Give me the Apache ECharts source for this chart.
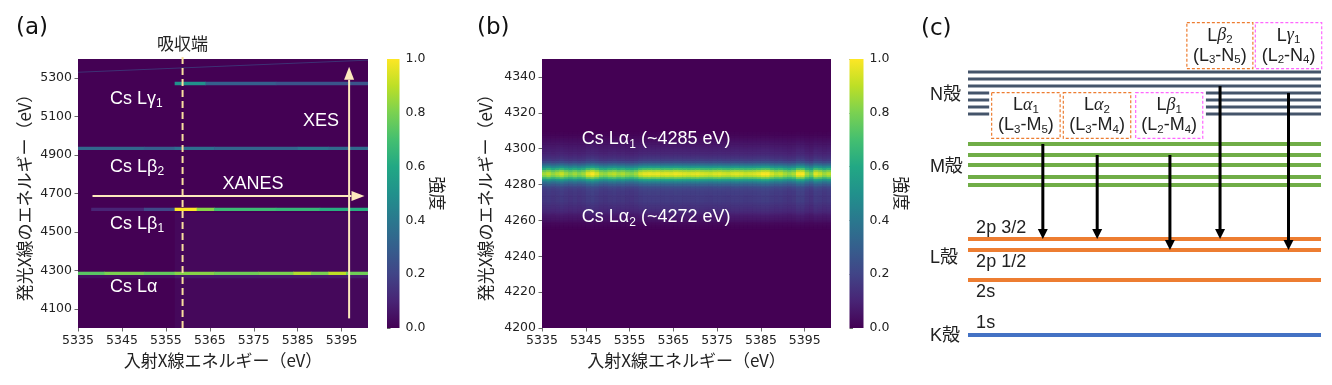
<!DOCTYPE html>
<html><head><meta charset="utf-8">
<script src="https://cdn.jsdelivr.net/npm/echarts@6/dist/echarts.min.js"></script>
<style>html,body{margin:0;padding:0;background:#fff}#c{width:1332px;height:385px}</style>
</head><body><div id="c"></div>
<script>
// ================= DATA =================
const incidentTicks = [5335, 5345, 5355, 5365, 5375, 5385, 5395];
const emissionTicksA = [4100, 4300, 4500, 4700, 4900, 5100, 5300];
const emissionTicksB = [4200, 4220, 4240, 4260, 4280, 4300, 4320, 4340];
const viridis = ['#440154','#482475','#414487','#355f8d','#2a788e','#21918c','#22a884','#44bf70','#7ad151','#bddf26','#fde725'];

// Panel (a): emission line energies (eV), band half width (eV), and intensity segments [incidentStart, incidentEnd, intensity]
const aLineEnergy = { La: 4286, Lb1: 4619, Lb2: 4936, Lg1: 5274 };
const aLineHalfWidth = 7;
const aLaSegs  = [[5335,5341,0.74],[5341,5350,0.8],[5350,5357,0.76],[5357,5366,0.82],[5366,5376,0.78],[5376,5384,0.8],[5384,5388,0.88],[5388,5392,0.8],[5392,5396,0.9],[5396,5401,0.78]];
const aLb1Segs = [[5338,5350,0.1],[5350,5357,0.22],[5357,5362,1.0],[5362,5366,0.82],[5366,5380,0.68],[5380,5390,0.66],[5390,5401,0.62]];
const aLb2Segs = [[5335,5350,0.33],[5350,5357,0.3],[5357,5366,0.36],[5366,5385,0.32],[5385,5392,0.38],[5392,5401,0.34]];
const aLg1Segs = [[5357,5364,0.5],[5364,5380,0.3],[5380,5401,0.26]];
const aLa2Glow = [[5335,5357,4262,4279,0.04],[5357,5401,4262,4279,0.07]];
const aBackground = [[5357,5401,4000,4600,0.02]];
const aElastic = [[5335,5331],[5401,5394]];
const aEdge = [[5358.8,4000],[5358.8,5431]];
const aArrows = [[5338.3,4687,5400.2,4687],[5396.7,4050,5396.7,5360]];
const aTexts = ['{a|Cs Lγ}{s|1}','{a|Cs Lβ}{s|2}','{a|Cs Lβ}{s|1}','{a|Cs Lα}','{a|XES}','{a|XANES}'];
const aTextPos = [[5342.3,5192],[5342.3,4840],[5342.3,4541],[5342.3,4215],[5386.2,5079],[5367.9,4748]];
const aEdgeLabel = ['吸収端'];
const aEdgeLabelPos = [[5358.8,5478]];

// Panel (b): Lα emission profile (1 eV steps from bProfileStart) and peak intensity per incident energy (1 eV steps from 5335)
const bProfileStart = 4256;
const bProfile = [0.005,0.01,0.02,0.03,0.05,0.06,0.07,0.08,0.10,0.12,0.13,0.14,0.15,0.16,0.17,0.18,0.18,0.18,0.18,0.19,0.19,0.20,0.22,0.26,0.31,0.38,0.48,0.62,0.80,0.93,1.0,0.97,0.88,0.72,0.56,0.43,0.32,0.24,0.19,0.16,0.14,0.12,0.11,0.10,0.09,0.08,0.07,0.06,0.05,0.04,0.03,0.02,0.01,0.005];
const bIncidentStart = 5335;
const bColumnPeak = [0.86,0.9,0.84,0.88,0.92,0.86,0.82,0.86,0.82,0.86,0.96,1.0,0.94,0.86,0.84,0.88,0.9,0.86,0.88,0.84,0.82,0.86,0.94,0.97,0.98,0.97,0.98,0.96,0.97,0.96,0.98,0.97,0.96,0.95,0.96,0.97,0.95,0.94,0.93,0.95,0.96,0.94,0.93,0.95,0.96,0.95,0.93,0.94,0.95,0.97,1.0,1.0,0.94,0.9,0.92,0.87,0.84,0.88,1.0,1.0,0.86,0.8,0.96,0.92,0.86,0.9];
const bTexts = ['{a|Cs Lα}{s|1}{a| (~4285 eV)}','{a|Cs Lα}{s|2}{a| (~4272 eV)}'];
const bTextPos = [[5344.1,4305.2],[5344.1,4261.7]];

// Panel (c): schematic level diagram (x: 0-100 across, v: schematic energy)
const nLevelSegs = [[0,100,273],[0,100,266],[0,100,259],[0,6.0,252],[67.4,100,252],[0,6.0,245],[67.4,100,245],[0,6.0,238],[67.4,100,238],[0,6.0,231],[67.4,100,231]];
const mLevels = [201,190,180,168,160];
const lLevels = [106,95,65];
const kLevels = [10];
const shellNames = ['N殻','M殻','L殻','K殻'];
const shellNamePos = [[-10.8,250],[-10.8,178],[-10.8,87],[-10.8,8.5]];
const orbitalNames = ['2p 3/2','2p 1/2','2s','1s'];
const orbitalPos = [[2.3,117.3],[2.3,82.7],[2.3,52.7],[2.3,21.7]];
const transX = [21.2, 36.6, 57.2, 71.4, 90.8];
const transFrom = [201, 190, 190, 259, 252];
const transTo = [106, 106, 95, 106, 95];
const boxTexts = [
  '{c|L}{g|α}{s|1}\n{c|(L}{s|3}{c|-M}{s|5}{c|)}',
  '{c|L}{g|α}{s|2}\n{c|(L}{s|3}{c|-M}{s|4}{c|)}',
  '{c|L}{g|β}{s|1}\n{c|(L}{s|2}{c|-M}{s|4}{c|)}',
  '{c|L}{g|β}{s|2}\n{c|(L}{s|3}{c|-N}{s|5}{c|)}',
  '{c|L}{g|γ}{s|1}\n{c|(L}{s|2}{c|-N}{s|4}{c|)}'
];
const boxRanges = [[6.7,26.1,206.7,252.3],[27.0,46.1,206.7,252.3],[47.5,66.5,206.7,252.3],[62.0,80.7,276.3,322.3],[81.4,100.2,276.3,322.3]];
const boxKinds = ['L3','L3','L2','L3','L2'];

// ================= BUILD =================
const SANS = "'Liberation Sans', Arial, 'Noto Sans CJK JP', sans-serif";
const CJK = "'Noto Sans CJK JP', sans-serif";
const TICK = "'DejaVu Sans', sans-serif";
const boxColor = { L3: '#ed7d31', L2: '#ff66ff' };

const aCells = [];
aBackground.forEach(c => aCells.push(c));
aLa2Glow.forEach(c => aCells.push(c));
function pushSegs(segs, e) { segs.forEach(s => aCells.push([s[0], s[1], e - aLineHalfWidth, e + aLineHalfWidth, s[2]])); }
pushSegs(aLaSegs, aLineEnergy.La);
pushSegs(aLb1Segs, aLineEnergy.Lb1);
pushSegs(aLb2Segs, aLineEnergy.Lb2);
pushSegs(aLg1Segs, aLineEnergy.Lg1);

const bCells = [];
bColumnPeak.forEach((pk, i) => {
  const x = bIncidentStart + i;
  bProfile.forEach((v, j) => {
    const e = bProfileStart + j;
    bCells.push([x, x + 1, e - 0.5, e + 0.5, Math.round(v * pk * 1000) / 1000]);
  });
});

function renderCell(params, api) {
  const p0 = api.coord([api.value(0), api.value(3)]);
  const p1 = api.coord([api.value(1), api.value(2)]);
  const shape = echarts.graphic.clipRectByRect(
    { x: p0[0], y: p0[1], width: p1[0] - p0[0] + 0.6, height: p1[1] - p0[1] + 0.6 },
    { x: params.coordSys.x, y: params.coordSys.y, width: params.coordSys.width, height: params.coordSys.height });
  if (!shape) return;
  return { type: 'rect', shape: shape, style: { fill: api.visual('color') } };
}

function arrowRenderer(color, lw, hl, hw) {
  return function (params, api) {
    const p0 = api.coord([api.value(0), api.value(1)]);
    const p1 = api.coord([api.value(2), api.value(3)]);
    const dx = p1[0] - p0[0], dy = p1[1] - p0[1];
    const len = Math.hypot(dx, dy) || 1;
    const ux = dx / len, uy = dy / len;
    const bx = p1[0] - ux * hl, by = p1[1] - uy * hl;
    return { type: 'group', children: [
      { type: 'line', shape: { x1: p0[0], y1: p0[1], x2: bx, y2: by }, style: { stroke: color, lineWidth: lw } },
      { type: 'polygon', shape: { points: [[p1[0], p1[1]], [bx - uy * hw, by + ux * hw], [bx + uy * hw, by - ux * hw]] }, style: { fill: color } }
    ]};
  };
}

function textRenderer(texts, style) {
  return function (params, api) {
    const p = api.coord([api.value(0), api.value(1)]);
    return { type: 'text', x: p[0], y: p[1], style: Object.assign({ text: texts[params.dataIndex] }, style) };
  };
}

function levelRenderer(color, lw) {
  return function (params, api) {
    const a = api.coord([api.value(0), api.value(2)]);
    const b = api.coord([api.value(1), api.value(2)]);
    return { type: 'line', shape: { x1: a[0], y1: a[1], x2: b[0], y2: b[1] }, style: { stroke: color, lineWidth: lw } };
  };
}

function colorbarRender(params, api) {
  const a = api.coord([api.value(0), api.value(3)]);
  const b = api.coord([api.value(2), api.value(1)]);
  return { type: 'rect', shape: { x: a[0], y: a[1], width: b[0] - a[0], height: b[1] - a[1] },
    style: { fill: { type: 'linear', x: 0, y: 1, x2: 0, y2: 0, colorStops: viridis.map((c, i) => ({ offset: i / (viridis.length - 1), color: c })) } } };
}

const whiteRich = {
  a: { fontSize: 18, fontFamily: SANS, fill: '#ffffff', lineHeight: 22 },
  s: { fontSize: 12, fontFamily: SANS, fill: '#ffffff', lineHeight: 12, verticalAlign: 'bottom' }
};

const axisLabelStyle = { fontFamily: TICK, fontSize: 12.5, color: '#222' };
const axisNameStyle = { fontFamily: CJK, fontSize: 17, color: '#222' };
const tickStyle = { lineStyle: { color: '#444', width: 0.8 }, length: 3.5 };
const plain = v => String(v);

function heatX(gi) {
  return { gridIndex: gi, type: 'value', min: 5335, max: 5401,
    axisLine: { show: false }, splitLine: { show: false },
    axisTick: Object.assign({ show: true, customValues: incidentTicks }, tickStyle),
    axisLabel: Object.assign({ customValues: incidentTicks, margin: 6, formatter: plain }, axisLabelStyle),
    name: '入射X線エネルギー（eV）', nameLocation: 'middle', nameGap: 22, nameTextStyle: axisNameStyle };
}
function heatY(gi, min, max, ticks, gap) {
  return { gridIndex: gi, type: 'value', min: min, max: max,
    axisLine: { show: false }, splitLine: { show: false },
    axisTick: Object.assign({ show: true, customValues: ticks }, tickStyle),
    axisLabel: Object.assign({ customValues: ticks, margin: 6, formatter: plain }, axisLabelStyle),
    name: '発光X線のエネルギー（eV）', nameLocation: 'middle', nameRotate: 90, nameGap: gap, nameTextStyle: axisNameStyle };
}
function cbY(gi, gap) {
  return { gridIndex: gi, type: 'value', min: 0, max: 1, interval: 0.2, position: 'right',
    axisLine: { show: false }, splitLine: { show: false },
    axisTick: Object.assign({ show: true }, tickStyle),
    axisLabel: Object.assign({ margin: 6, formatter: v => v.toFixed(1) }, axisLabelStyle),
    name: '強度', nameLocation: 'middle', nameRotate: -90, nameGap: gap, nameTextStyle: axisNameStyle };
}
const hiddenX = (gi, min, max) => ({ gridIndex: gi, type: 'value', min: min, max: max, show: false });

const boxRich = {
  c: { fontSize: 18, fontFamily: SANS, fill: '#222', lineHeight: 20 },
  g: { fontSize: 18, fontFamily: "'Liberation Serif', serif", fontStyle: 'italic', fill: '#222', lineHeight: 20 },
  s: { fontSize: 11.5, fontFamily: SANS, fill: '#222', lineHeight: 12, verticalAlign: 'bottom' }
};

const panelTitle = { fontFamily: TICK, fontSize: 23, fontWeight: 'normal', color: '#111' };

const option = {
  animation: false,
  backgroundColor: '#ffffff',
  title: [
    { text: '(a)', left: 16, top: 17, padding: 0, textStyle: panelTitle },
    { text: '(b)', left: 477, top: 17, padding: 0, textStyle: panelTitle },
    { text: '(c)', left: 921, top: 18, padding: 0, textStyle: panelTitle }
  ],
  grid: [
    { left: 78, top: 59, width: 290, height: 269, show: true, backgroundColor: '#440154', borderWidth: 0 },
    { left: 387, top: 59, width: 12.5, height: 269 },
    { left: 542, top: 59, width: 289, height: 269, show: true, backgroundColor: '#440154', borderWidth: 0 },
    { left: 849.5, top: 59, width: 14, height: 269 },
    { left: 968, top: 20, width: 353, height: 325 }
  ],
  xAxis: [heatX(0), hiddenX(1, 0, 1), heatX(2), hiddenX(3, 0, 1), hiddenX(4, 0, 100)],
  yAxis: [
    heatY(0, 4000, 5400, emissionTicksA, 45),
    cbY(1, 27),
    heatY(2, 4200, 4350, emissionTicksB, 48),
    cbY(3, 29),
    { gridIndex: 4, type: 'value', min: 0, max: 325, show: false }
  ],
  visualMap: [{ show: false, type: 'continuous', min: 0, max: 1, dimension: 4, seriesIndex: [0, 6], inRange: { color: viridis } }],
  series: [
    { type: 'custom', xAxisIndex: 0, yAxisIndex: 0, dimensions: ['x0','x1','y0','y1','v'], encode: { x: [0, 1], y: [2, 3] }, data: aCells, renderItem: renderCell, silent: true, z: 1 },
    { type: 'line', xAxisIndex: 0, yAxisIndex: 0, data: aElastic, symbol: 'none', lineStyle: { color: '#3b528b', width: 1, opacity: 0.6 }, silent: true, z: 2 },
    { type: 'line', xAxisIndex: 0, yAxisIndex: 0, data: aEdge, symbol: 'none', clip: false, lineStyle: { color: '#f9df9f', width: 2, type: [7, 4] }, silent: true, z: 5 },
    { type: 'custom', xAxisIndex: 0, yAxisIndex: 0, data: aArrows, renderItem: arrowRenderer('#fde9bd', 2, 13, 5), silent: true, z: 6 },
    { type: 'custom', xAxisIndex: 0, yAxisIndex: 0, data: aTextPos, renderItem: textRenderer(aTexts, { align: 'left', verticalAlign: 'middle', rich: whiteRich }), silent: true, z: 7 },
    { type: 'custom', xAxisIndex: 1, yAxisIndex: 1, data: [[0, 0, 1, 1]], renderItem: colorbarRender, silent: true },
    { type: 'custom', xAxisIndex: 2, yAxisIndex: 2, dimensions: ['x0','x1','y0','y1','v'], encode: { x: [0, 1], y: [2, 3] }, data: bCells, renderItem: renderCell, silent: true, z: 1 },
    { type: 'custom', xAxisIndex: 2, yAxisIndex: 2, data: bTextPos, renderItem: textRenderer(bTexts, { align: 'left', verticalAlign: 'middle', rich: whiteRich }), silent: true, z: 7 },
    { type: 'custom', xAxisIndex: 3, yAxisIndex: 3, data: [[0, 0, 1, 1]], renderItem: colorbarRender, silent: true },
    { type: 'custom', xAxisIndex: 0, yAxisIndex: 0, data: aEdgeLabelPos, renderItem: textRenderer(aEdgeLabel, { align: 'center', verticalAlign: 'middle', fontSize: 17, fontFamily: CJK, fill: '#222' }), silent: true },
    { type: 'custom', xAxisIndex: 4, yAxisIndex: 4, data: nLevelSegs, renderItem: levelRenderer('#44546a', 3), silent: true },
    { type: 'custom', xAxisIndex: 4, yAxisIndex: 4, data: mLevels.map(v => [0, 100, v]), renderItem: levelRenderer('#70ad47', 4), silent: true },
    { type: 'custom', xAxisIndex: 4, yAxisIndex: 4, data: lLevels.map(v => [0, 100, v]), renderItem: levelRenderer('#ed7d31', 4), silent: true },
    { type: 'custom', xAxisIndex: 4, yAxisIndex: 4, data: kLevels.map(v => [0, 100, v]), renderItem: levelRenderer('#4472c4', 4), silent: true },
    { type: 'custom', xAxisIndex: 4, yAxisIndex: 4, data: transX.map((x, i) => [x, transFrom[i], x, transTo[i]]), renderItem: arrowRenderer('#000000', 3, 10, 5), silent: true, z: 4 },
    { type: 'custom', xAxisIndex: 4, yAxisIndex: 4, data: boxRanges, silent: true, z: 3,
      renderItem: function (params, api) {
        const a = api.coord([api.value(0), api.value(3)]);
        const b = api.coord([api.value(1), api.value(2)]);
        const col = boxColor[boxKinds[params.dataIndex]];
        return { type: 'group', children: [
          { type: 'rect', shape: { x: a[0], y: a[1], width: b[0] - a[0], height: b[1] - a[1] }, style: { fill: '#ffffff', stroke: col, lineWidth: 1.2, lineDash: [3, 2] } },
          { type: 'text', x: (a[0] + b[0]) / 2, y: (a[1] + b[1]) / 2, style: { text: boxTexts[params.dataIndex], align: 'center', verticalAlign: 'middle', rich: boxRich } }
        ]};
      } },
    { type: 'custom', xAxisIndex: 4, yAxisIndex: 4, data: shellNamePos, renderItem: textRenderer(shellNames, { align: 'left', verticalAlign: 'middle', fontSize: 18, fontFamily: SANS, fill: '#222' }), silent: true },
    { type: 'custom', xAxisIndex: 4, yAxisIndex: 4, data: orbitalPos, renderItem: textRenderer(orbitalNames, { align: 'left', verticalAlign: 'middle', fontSize: 18, fontFamily: SANS, fill: '#222' }), silent: true }
  ]
};

const chart = echarts.init(document.getElementById('c'), null, { renderer: 'canvas', width: 1332, height: 385 });
chart.setOption(option);
</script>
</body></html>
